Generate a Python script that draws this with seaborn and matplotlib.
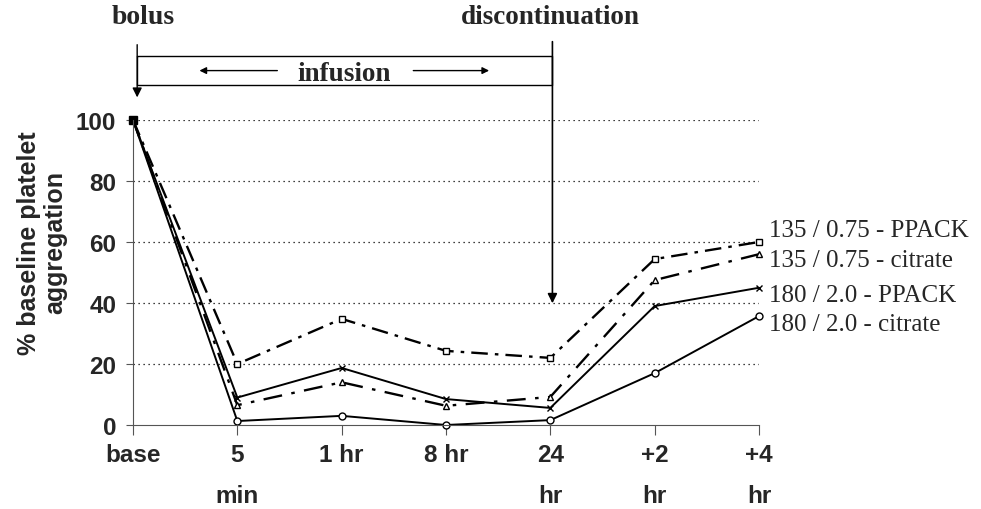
import pandas as pd
import seaborn as sns
import matplotlib.pyplot as plt

# time points (categorical, evenly spaced)
time_labels = ["base", "5\nmin", "1 hr", "8 hr", "24\nhr", "+2\nhr", "+4\nhr"]
time_pos = [0, 1, 2, 3, 4, 5, 6]

# % baseline platelet aggregation
ppack_135 = [100, 20, 34.8, 24.3, 22, 54.4, 60]
citrate_135 = [100, 6.5, 14, 6.3, 9.2, 47.5, 56]
ppack_180 = [100, 9, 18.7, 8.5, 5.6, 39, 45]
citrate_180 = [100, 1.3, 3, 0, 1.6, 17, 35.7]

series_names = ["135 / 0.75 - PPACK", "135 / 0.75 - citrate",
                "180 / 2.0 - PPACK", "180 / 2.0 - citrate"]
series_vals = [ppack_135, citrate_135, ppack_180, citrate_180]
label_y = [64, 54.2, 42.6, 33.1]

sns.set_style("white")
serif = "Liberation Serif"
sans = "Liberation Sans"

fig = plt.figure(figsize=(9.81, 5.10), dpi=100)
ax = fig.add_axes([133 / 981, 1 - 426 / 510, (759 - 133) / 981, (426 - 121) / 510])

styles = [
    dict(linestyle=(0, (7, 3, 1.5, 3)), marker="s", lw=1.7),
    dict(linestyle=(0, (8, 4, 1.5, 4)), marker="^", lw=1.7),
    dict(linestyle="-", marker="x", lw=1.4),
    dict(linestyle="-", marker="o", lw=1.4),
]

for name, vals, st, ly in zip(series_names, series_vals, styles, label_y):
    df = pd.DataFrame({"t": time_pos, "v": vals})
    sns.lineplot(data=df, x="t", y="v", ax=ax, color="black",
                 linestyle=st["linestyle"], lw=st["lw"], marker=st["marker"],
                 markersize=5, markerfacecolor="white", markeredgecolor="black",
                 markeredgewidth=1.0, clip_on=False)
    ax.text(6.1, ly, name, fontsize=18, family=serif, va="center", ha="left")

# base point filled square
ax.plot([0], [100], marker="s", color="black", markersize=6, clip_on=False)

ax.set_xlim(0, 6)
ax.set_ylim(0, 100)
ax.set_yticks([0, 20, 40, 60, 80, 100])
ax.set_xticks(time_pos)
ax.set_xticklabels(time_labels, fontsize=17.5, fontweight="bold", family=sans,
                   linespacing=2.0, va="top")
for lab in ax.get_yticklabels():
    lab.set_fontsize(17.5)
    lab.set_fontweight("bold")
    lab.set_family(sans)

for yv in [20, 40, 60, 80, 100]:
    ax.axhline(yv, color="black", lw=0.9, linestyle=(0, (1, 3)), zorder=0)

ax.spines["top"].set_visible(False)
ax.spines["right"].set_visible(False)
ax.spines["left"].set_color("#555555")
ax.spines["bottom"].set_color("#555555")
ax.tick_params(axis="y", direction="out", length=5, pad=7, color="#555555", left=True)
ax.tick_params(axis="x", direction="out", length=7, pad=6, color="#555555", bottom=True)

ax.set_xlabel("")
ax.set_ylabel("% baseline platelet\naggregation", fontsize=18, fontweight="bold",
              family=sans, va="center", linespacing=1.1)
ax.yaxis.set_label_coords(-0.145, 0.6)

# top annotations
ax.text(0.1, 133.8, "bolus", fontsize=20, fontweight="bold", family=serif,
        ha="center", va="center", clip_on=False)
ax.text(4.0, 133.8, "discontinuation", fontsize=19.5, fontweight="bold", family=serif,
        ha="center", va="center", clip_on=False)
ax.text(2.02, 115.4, "infusion", fontsize=19.5, fontweight="bold", family=serif,
        ha="center", va="center", clip_on=False)

# infusion box
ax.plot([0.04, 4.02, 4.02, 0.04, 0.04], [120.9, 120.9, 111.5, 111.5, 120.9],
        color="black", lw=1.0, clip_on=False)
# bolus arrow
ax.annotate("", xy=(0.04, 106.5), xytext=(0.04, 125.6), xycoords="data",
            arrowprops=dict(arrowstyle="-|>", color="black", lw=1.0,
                            mutation_scale=14), annotation_clip=False)
# discontinuation arrow
ax.annotate("", xy=(4.02, 39), xytext=(4.02, 126.6), xycoords="data",
            arrowprops=dict(arrowstyle="-|>", color="black", lw=1.2,
                            mutation_scale=14), annotation_clip=False)
# arrows inside the box
ax.annotate("", xy=(0.61, 116.2), xytext=(1.41, 116.2),
            arrowprops=dict(arrowstyle="-|>", color="black", lw=1.0,
                            mutation_scale=10), annotation_clip=False)
ax.annotate("", xy=(3.44, 116.2), xytext=(2.66, 116.2),
            arrowprops=dict(arrowstyle="-|>", color="black", lw=1.0,
                            mutation_scale=10), annotation_clip=False)

fig.savefig("out.png", dpi=100)
